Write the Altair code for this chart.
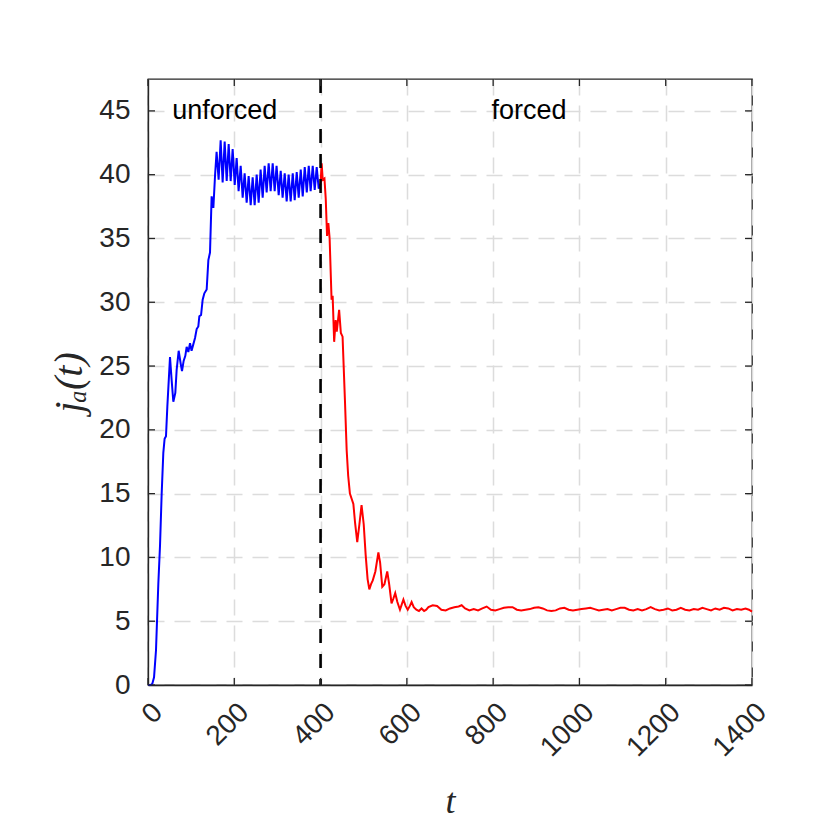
import altair as alt
import pandas as pd

# ---- data ----
blue_t = [0, 6, 10, 14, 18.5, 24, 27.8, 31.7, 35.5, 38.5, 41.7, 44.8, 51, 54.8, 58.7, 63.3, 66.4, 71.1,
          75.7, 78.8, 82.6, 86.5, 89.6, 93.5, 97.4, 101, 105, 109, 112.8, 116.6, 119, 123, 126.7, 130.6,
          136, 139.9, 143.7, 147.5, 151.5, 155.5]
blue_j = [0, 0, 0.1, 0.6, 2.7, 8.0, 10.9, 15.0, 18.2, 19.3, 19.5, 21.8, 25.7, 23.9, 22.2, 22.9, 24.7, 26.2,
          25.2, 24.6, 25.4, 25.8, 26.5, 26.1, 26.8, 26.2, 26.7, 27.2, 27.9, 28.1, 28.9, 29.0, 30.2, 30.7,
          31.0, 33.3, 33.9, 38.3, 37.4, 40.0]

osc_t = [159, 163.7, 168.4, 173, 177.7, 182.4, 187, 191.6, 196.2, 201, 205.5, 210, 214.8, 219.4, 224,
         228.7, 233.3, 238, 242.6, 247.2, 251.9, 256.5, 261, 265.8, 270.4, 275, 279.7, 284.3, 289, 293.6,
         298, 302.9, 307.6, 312, 316.9, 321.4, 326, 330.7, 335.5, 340, 344.7, 349.3, 354, 358.6, 363.3,
         368, 372.6, 377, 381.8, 386.4, 391, 395.7, 400]
osc_j = [41.8, 39.6, 42.7, 39.4, 42.6, 39.5, 42.4, 39.5, 42.0, 39.2, 41.3, 38.7, 40.7, 38.2, 40.1, 37.8,
         39.9, 37.6, 39.8, 37.6, 40.0, 37.8, 40.4, 38.2, 40.7, 38.6, 40.9, 38.7, 40.9, 38.7, 40.7, 38.4,
         40.3, 38.2, 40.1, 37.9, 40.0, 37.9, 40.1, 38.0, 40.2, 38.2, 40.4, 38.3, 40.6, 38.6, 40.7, 38.7,
         40.7, 38.8, 40.6, 38.9, 39.3]

red_t = [400, 402.5, 405, 409, 412, 415, 418, 421, 425.5, 428, 431.5, 435, 437.5, 443, 447, 451, 456.5,
         460.5, 464, 468, 472, 476, 480, 485, 490, 495, 500, 504.5, 509, 513, 517, 521, 527, 534, 538,
         543, 548, 554.5, 559, 564.5, 569, 573, 578, 584, 588, 592, 597, 602, 607, 611, 616, 622, 628,
         634, 640, 645]
red_j = [39.3, 40.9, 39.6, 39.7, 38.1, 35.2, 36.2, 35.0, 30.2, 30.5, 26.9, 28.6, 27.7, 29.4, 27.6, 27.3,
         22.3, 18.4, 16.4, 15.0, 14.6, 14.2, 12.7, 11.2, 12.6, 14.1, 12.6, 10.2, 8.3, 7.5, 7.9, 8.2, 8.9,
         10.4, 9.6, 7.7, 7.9, 8.9, 7.9, 6.4, 6.8, 7.2, 6.5, 5.9, 6.3, 6.7, 6.2, 5.9, 6.2, 6.5, 6.1, 5.9,
         5.8, 6.0, 5.8, 5.9]

steady_t = [650, 660, 670, 680, 690, 700, 710, 720, 727, 735, 745, 755, 765, 775, 785, 795, 805, 815, 825,
            835, 845, 855, 865, 875, 885, 895, 905, 915, 925, 935, 945, 955, 965, 975, 985, 995, 1005,
            1015, 1025, 1035, 1045, 1055, 1065, 1075, 1085, 1095, 1105, 1115, 1125, 1135, 1145, 1155,
            1165, 1175, 1185, 1195, 1205, 1215, 1225, 1235, 1245, 1255, 1265, 1275, 1285, 1295, 1305,
            1315, 1325, 1335, 1345, 1355, 1365, 1375, 1385, 1393, 1400]
steady_j = [6.1, 6.25, 6.2, 5.9, 5.85, 6.0, 6.1, 6.15, 6.25, 6.0, 5.85, 5.95, 5.85, 6.0, 6.15, 5.9, 5.85, 5.95,
            6.05, 6.1, 6.1, 5.9, 5.85, 5.9, 5.95, 6.05, 6.1, 6.0, 5.85, 5.8, 5.85, 6.0, 6.05, 5.9, 5.85,
            5.9, 5.95, 6.0, 6.05, 5.95, 5.85, 5.9, 5.95, 5.85, 5.95, 6.05, 6.05, 5.9, 5.85, 5.95, 5.85,
            5.95, 6.1, 5.95, 5.85, 5.9, 6.0, 5.85, 5.9, 6.05, 5.9, 5.85, 5.95, 5.9, 6.05, 5.95, 5.85, 6.0,
            5.9, 6.05, 6.0, 5.85, 5.95, 5.9, 6.0, 5.9, 5.75]

x_ticks = [0, 200, 400, 600, 800, 1000, 1200, 1400]
y_ticks = [0, 5, 10, 15, 20, 25, 30, 35, 40, 45]
switch_t = [400]
note_text = ["unforced", "forced"]
note_t = [178, 883]
note_j = [45.0, 45.0]

# ---- build ----
W, H = 604, 606
AX = "#262626"
xs = alt.Scale(domain=[0, 1400], nice=False, zero=False)
ys = alt.Scale(domain=[0, 47.5], nice=False, zero=False)

blue_df = pd.DataFrame({"t": blue_t + osc_t, "j": blue_j + osc_j})
red_df = pd.DataFrame({"t": red_t + steady_t, "j": red_j + steady_j})

x_axis = alt.Axis(values=x_ticks, format="d", labelAngle=315, labelFontSize=28, labelFont="Liberation Sans",
                  labelColor=AX, labelPadding=13, labelFlush=False, labelOverlap=False,
                  labelBound=False, ticks=False, grid=True, gridColor="#dcdcdc", gridDash=[16, 10],
                  gridWidth=1.5, domainColor=AX, domainWidth=1.3, title="t", titleFont="Liberation Serif",
                  titleFontStyle="italic", titleFontWeight="normal", titleFontSize=36, titleColor=AX,
                  titleY=127, titleBaseline="alphabetic")
y_axis = alt.Axis(values=y_ticks, format="d", labelFontSize=28, labelFont="Liberation Sans", labelColor=AX,
                  labelPadding=18, labelFlush=False, labelOverlap=False, labelBound=False,
                  ticks=False, grid=True, gridColor="#dcdcdc", gridDash=[16, 10], gridWidth=1.5,
                  domainColor=AX, domainWidth=1.3, title="jₐ(t)",
                  titleFont="Liberation Serif, DejaVu Serif", titleFontStyle="italic",
                  titleFontWeight="normal", titleFontSize=40, titleColor=AX, titleAngle=270,
                  titleX=-67, titleBaseline="alphabetic")

blue = alt.Chart(blue_df).mark_line(color="#0000ff", strokeWidth=2).encode(
    x=alt.X("t:Q", scale=xs, axis=x_axis), y=alt.Y("j:Q", scale=ys, axis=y_axis), order="t:Q")
red = alt.Chart(red_df).mark_line(color="#ff0000", strokeWidth=2).encode(
    x=alt.X("t:Q", scale=xs), y=alt.Y("j:Q", scale=ys), order="t:Q")

vline = alt.Chart(pd.DataFrame({"t": switch_t})).mark_rule(
    color="#000000", strokeWidth=2.6, strokeDash=[14, 11]).encode(x=alt.X("t:Q", scale=xs))

notes = alt.Chart(pd.DataFrame({"t": note_t, "j": note_j, "txt": note_text})).mark_text(
    font="Liberation Sans", fontSize=27, color="#000000", align="center", baseline="middle").encode(
    x=alt.X("t:Q", scale=xs), y=alt.Y("j:Q", scale=ys), text="txt:N")

xt_df = pd.DataFrame({"t": x_ticks})
yt_df = pd.DataFrame({"j": y_ticks})
tk = dict(color=AX, strokeWidth=1.3)
tick_b = alt.Chart(xt_df).mark_rule(**tk).encode(x=alt.X("t:Q", scale=xs), y=alt.value(H), y2=alt.value(H - 7))
tick_t = alt.Chart(xt_df).mark_rule(**tk).encode(x=alt.X("t:Q", scale=xs), y=alt.value(0), y2=alt.value(7))
tick_l = alt.Chart(yt_df).mark_rule(**tk).encode(y=alt.Y("j:Q", scale=ys), x=alt.value(0), x2=alt.value(7))
tick_r = alt.Chart(yt_df).mark_rule(**tk).encode(y=alt.Y("j:Q", scale=ys), x=alt.value(W - 7), x2=alt.value(W))

chart = alt.layer(blue, red, vline, notes, tick_b, tick_t, tick_l, tick_r).properties(
    width=W, height=H,
    padding={"left": 140, "top": 71, "right": 60, "bottom": 140},
    autosize=alt.AutoSizeParams(type="none"),
    background="white",
).configure_view(stroke=AX, strokeWidth=1.3)

chart.save("out.html", embed_options={"renderer": "svg", "actions": False})
